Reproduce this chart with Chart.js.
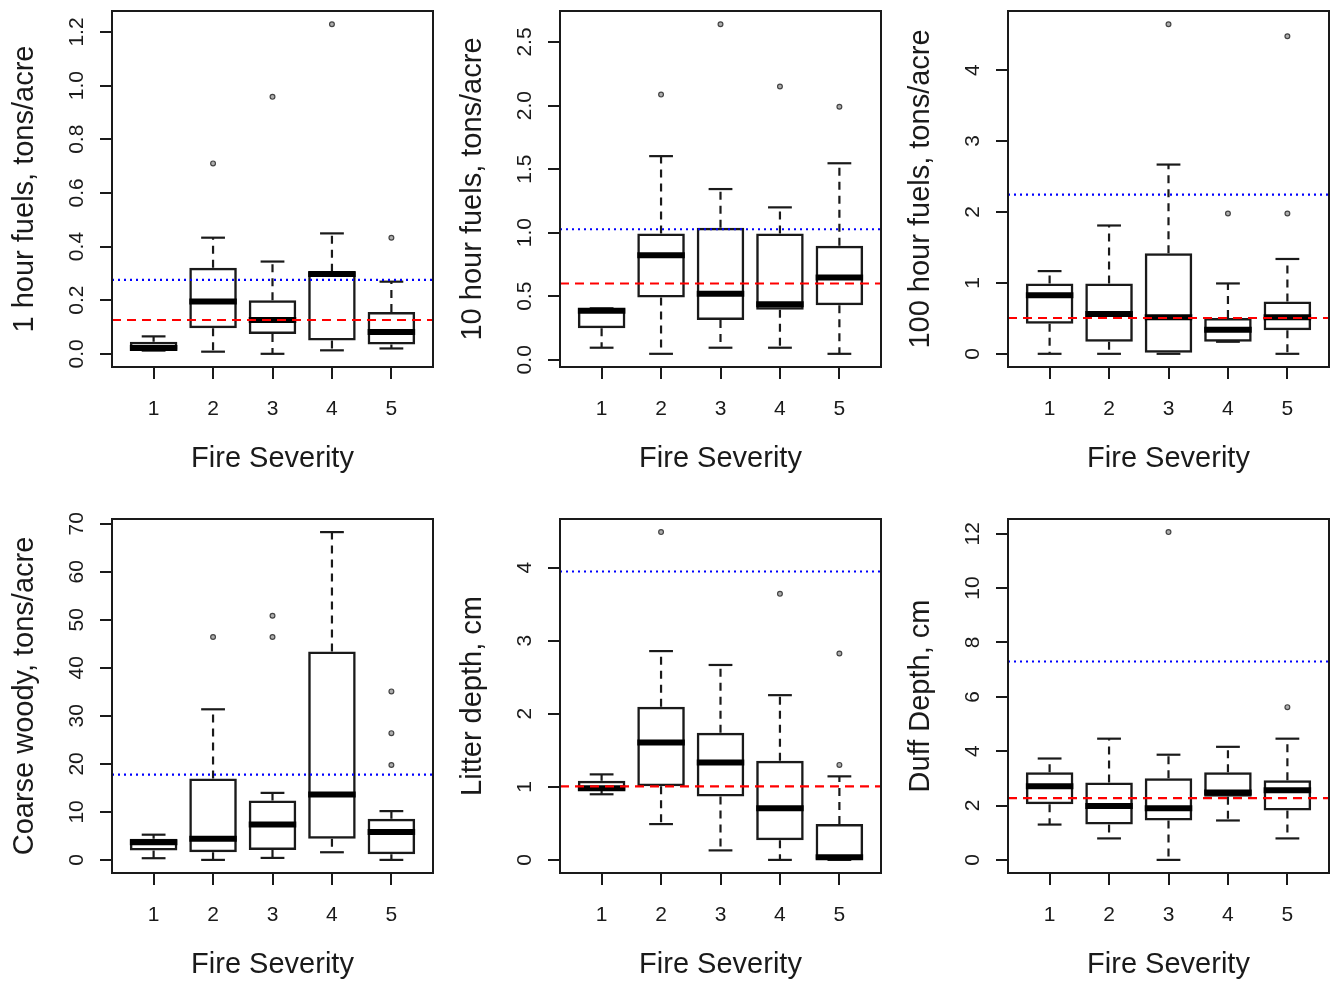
<!DOCTYPE html>
<html>
<head>
<meta charset="utf-8">
<script src="https://cdn.jsdelivr.net/npm/chart.js@4.4.1/dist/chart.umd.min.js"></script>
<style>
  body { margin: 0; background: #fff; overflow: hidden; width: 1334px; height: 983px; position: relative; }
  canvas { position: absolute; }
</style>
</head>
<body>
<canvas id="c1" width="445" height="490" style="left:0px;top:0px"></canvas>
<canvas id="c2" width="445" height="490" style="left:448px;top:0px"></canvas>
<canvas id="c3" width="445" height="490" style="left:896px;top:0px"></canvas>
<canvas id="c4" width="445" height="488" style="left:0px;top:508px"></canvas>
<canvas id="c5" width="445" height="488" style="left:448px;top:508px"></canvas>
<canvas id="c6" width="445" height="488" style="left:896px;top:508px"></canvas>
<script>
// fire severity classes (x axis)
const severity = [1, 2, 3, 4, 5];
const severityLabels = ['1', '2', '3', '4', '5'];

// 1 hour fuels, tons/acre
const oneHrLo  = [0.012, 0.008, 0.0, 0.013, 0.02];
const oneHrQ1  = [0.015, 0.095, 0.074, 0.05, 0.035];
const oneHrMed = [0.022, 0.195, 0.126, 0.298, 0.081];
const oneHrQ3  = [0.045, 0.321, 0.2, 0.306, 0.156];
const oneHrHi  = [0.065, 0.433, 0.344, 0.449, 0.269];
const oneHrOutX = [2, 3, 4, 5];
const oneHrOutY = [0.71, 0.958, 1.229, 0.433];
const oneHrBlue = 0.276;
const oneHrRed = 0.126;
const oneHrTicks = ['0.0', '0.2', '0.4', '0.6', '0.8', '1.0', '1.2'];

// 10 hour fuels, tons/acre
const tenHrLo  = [0.095, 0.047, 0.095, 0.095, 0.047];
const tenHrQ1  = [0.248, 0.49, 0.313, 0.393, 0.429];
const tenHrMed = [0.385, 0.822, 0.519, 0.437, 0.648];
const tenHrQ3  = [0.405, 0.993, 1.038, 0.993, 0.898];
const tenHrHi  = [0.405, 1.602, 1.343, 1.199, 1.546];
const tenHrOutX = [2, 3, 4, 5];
const tenHrOutY = [2.086, 2.64, 2.15, 1.99];
const tenHrBlue = 1.027;
const tenHrRed = 0.60;
const tenHrTicks = ['0.0', '0.5', '1.0', '1.5', '2.0', '2.5'];

// 100 hour fuels, tons/acre
const hundredHrLo  = [0, 0, 0, 0.17, 0];
const hundredHrQ1  = [0.425, 0.17, 0, 0.17, 0.331];
const hundredHrMed = [0.826, 0.562, 0.515, 0.34, 0.515];
const hundredHrQ3  = [0.992, 0.992, 1.417, 0.505, 0.737];
const hundredHrHi  = [1.166, 1.809, 2.668, 0.992, 1.337];
const hundredHrOutX = [3, 4, 5, 5];
const hundredHrOutY = [4.647, 1.979, 1.979, 4.477];
const hundredHrBlue = 2.243;
const hundredHrRed = 0.505;
const hundredHrTicks = ['0', '1', '2', '3', '4'];

// coarse woody, tons/acre
const coarseLo  = [0.35, 0, 0.41, 1.59, 0];
const coarseQ1  = [1.93, 1.59, 2.07, 4.42, 1.17];
const coarseMed = [3.66, 4.42, 7.39, 13.61, 5.8];
const coarseQ3  = [4.42, 16.93, 12.37, 43.4, 8.57];
const coarseHi  = [5.25, 31.37, 13.96, 68.28, 10.16];
const coarseOutX = [2, 3, 3, 5, 5, 5];
const coarseOutY = [46.44, 46.44, 50.86, 19.76, 26.4, 35.1];
const coarseBlue = 17.76;
const coarseRed = null;
const coarseTicks = ['0', '10', '20', '30', '40', '50', '60', '70'];

// litter depth, cm
const litterLo  = [0.898, 0.49, 0.13, 0, 0];
const litterQ1  = [0.948, 1.007, 0.866, 0.268, 0];
const litterMed = [0.98, 1.605, 1.333, 0.707, 0.036];
const litterQ3  = [1.084, 2.095, 1.741, 1.356, 0.49];
const litterHi  = [1.17, 2.857, 2.667, 2.254, 1.143];
const litterOutX = [2, 4, 5, 5];
const litterOutY = [4.485, 3.64, 1.30, 2.825];
const litterBlue = 3.946;
const litterRed = 1.007;
const litterTicks = ['0', '1', '2', '3', '4'];

// duff depth, cm
const duffLo  = [1.30, 0.79, 0, 1.45, 0.79];
const duffQ1  = [2.05, 1.30, 1.45, 2.32, 1.82];
const duffMed = [2.71, 1.98, 1.90, 2.48, 2.56];
const duffQ3  = [3.22, 2.85, 3.0, 3.22, 2.93];
const duffHi  = [3.73, 4.46, 3.87, 4.16, 4.46];
const duffOutX = [3, 5];
const duffOutY = [12.06, 5.62];
const duffBlue = 7.30;
const duffRed = 2.27;
const duffTicks = ['0', '2', '4', '6', '8', '10', '12'];

const xLim = [0.3, 5.7];
const ink = '#1a1a1a';
const fontFamily = '"Liberation Sans", Arial, Helvetica, sans-serif';
Chart.defaults.font.family = fontFamily;
Chart.defaults.color = ink;

// padding so the rotated y labels sit centred 35px left of the plot box
const meas = document.createElement('canvas').getContext('2d');
function yLabelPad(labels) {
  meas.font = '21px ' + fontFamily;
  const w = Math.max(...labels.map(l => meas.measureText(l).width));
  return 23 - w / 2;
}

// no extra room for overhanging tick labels: plot box stays where it is put
function fixedSize(s, w, h) {
  if (w) s.width = w;
  if (h) s.height = h;
  s.paddingLeft = 0; s.paddingRight = 0; s.paddingTop = 0; s.paddingBottom = 0;
}

// frame round the plot region, like R's box()
const framePlugin = {
  id: 'frame',
  afterDraw(chart) {
    const a = chart.chartArea;
    const ctx = chart.ctx;
    ctx.save();
    ctx.strokeStyle = ink;
    ctx.lineWidth = 2;
    ctx.strokeRect(a.left, a.top, a.right - a.left, a.bottom - a.top);
    ctx.restore();
  }
};

function makePanel(id, title, lo, q1, med, q3, hi, outX, outY, blue, red, tickLabels) {
  const all = lo.concat(hi, outY);
  const yMin = Math.min(...all), yMax = Math.max(...all);
  const ext = (yMax - yMin) * 0.04;
  const yTicks = tickLabels.map(Number);

  const whisker = (from, to) => severity.flatMap((x, i) => [
    { x: x, y: from[i] }, { x: x, y: to[i] }, { x: x, y: null }
  ]);

  const datasets = [];
  if (blue !== null) {
    datasets.push({ type: 'line', data: [{ x: xLim[0], y: blue }, { x: xLim[1], y: blue }],
      borderColor: '#0000ff', borderWidth: 2.2, borderDash: [2, 4], pointRadius: 0 });
  }
  if (red !== null) {
    datasets.push({ type: 'line', data: [{ x: xLim[0], y: red }, { x: xLim[1], y: red }],
      borderColor: '#ff0000', borderWidth: 2.2, borderDash: [9, 6], pointRadius: 0 });
  }
  // medians
  datasets.push({ type: 'line', showLine: false, data: severity.map((x, i) => ({ x: x, y: med[i] })),
    pointStyle: 'line', pointRadius: 23.75, pointBorderWidth: 6, pointBorderColor: '#000' });
  // whisker caps
  datasets.push({ type: 'line', showLine: false,
    data: severity.map((x, i) => ({ x: x, y: hi[i] })).concat(severity.map((x, i) => ({ x: x, y: lo[i] }))),
    pointStyle: 'line', pointRadius: 11.9, pointBorderWidth: 2.2, pointBorderColor: ink });
  // whiskers (dashed)
  datasets.push({ type: 'line', data: whisker(q3, hi), borderColor: ink, borderWidth: 2.2,
    borderDash: [8, 6], pointRadius: 0, spanGaps: false });
  datasets.push({ type: 'line', data: whisker(q1, lo), borderColor: ink, borderWidth: 2.2,
    borderDash: [8, 6], pointRadius: 0, spanGaps: false });
  // boxes
  datasets.push({ type: 'bar', data: severity.map((x, i) => ({ x: x, y: [q1[i], q3[i]] })),
    backgroundColor: 'rgba(0,0,0,0)', borderColor: ink, borderWidth: 2.5, borderSkipped: false,
    barPercentage: 0.8, categoryPercentage: 1 });
  // outliers
  datasets.push({ type: 'line', showLine: false, data: outX.map((x, i) => ({ x: x, y: outY[i] })),
    pointStyle: 'circle', pointRadius: 2.4, pointBorderWidth: 1.2,
    pointBorderColor: '#444', pointBackgroundColor: 'rgba(140,140,140,0.7)' });

  new Chart(document.getElementById(id), {
    type: 'bar',
    data: { datasets: datasets },
    options: {
      responsive: false,
      animation: false,
      devicePixelRatio: 1,
      events: [],
      layout: { autoPadding: false, padding: { left: 0, top: 11, right: 12, bottom: 0 } },
      plugins: { legend: { display: false }, tooltip: { enabled: false } },
      scales: {
        x: {
          type: 'linear', min: xLim[0], max: xLim[1], offset: false,
          afterFit: s => fixedSize(s, 0, 123),
          afterBuildTicks: s => { s.ticks = severity.map(v => ({ value: v })); },
          ticks: { autoSkip: false, maxRotation: 0, padding: 18, color: ink,
            font: { size: 21 }, callback: (v, i) => severityLabels[i] },
          grid: { drawOnChartArea: false, offset: false, tickLength: 12, lineWidth: 2, color: ink },
          border: { display: false },
          title: { display: true, text: 'Fire Severity', color: ink, font: { size: 29 },
            padding: { top: 0, bottom: 13.6 } }
        },
        y: {
          type: 'linear', min: yMin - ext, max: yMax + ext,
          afterFit: s => fixedSize(s, 112, 0),
          afterBuildTicks: s => { s.ticks = yTicks.map(v => ({ value: v })); },
          ticks: { autoSkip: false, minRotation: 90, maxRotation: 90, crossAlign: 'center',
            padding: yLabelPad(tickLabels), color: ink, font: { size: 21 },
            callback: (v, i) => tickLabels[i] },
          grid: { drawOnChartArea: false, tickLength: 12, lineWidth: 2, color: ink },
          border: { display: false },
          title: { display: true, text: title, color: ink, font: { size: 29 },
            padding: { top: 7.6, bottom: 0 } }
        }
      }
    },
    plugins: [framePlugin]
  });
}

makePanel('c1', '1 hour fuels, tons/acre', oneHrLo, oneHrQ1, oneHrMed, oneHrQ3, oneHrHi,
  oneHrOutX, oneHrOutY, oneHrBlue, oneHrRed, oneHrTicks);
makePanel('c2', '10 hour fuels, tons/acre', tenHrLo, tenHrQ1, tenHrMed, tenHrQ3, tenHrHi,
  tenHrOutX, tenHrOutY, tenHrBlue, tenHrRed, tenHrTicks);
makePanel('c3', '100 hour fuels, tons/acre', hundredHrLo, hundredHrQ1, hundredHrMed, hundredHrQ3, hundredHrHi,
  hundredHrOutX, hundredHrOutY, hundredHrBlue, hundredHrRed, hundredHrTicks);
makePanel('c4', 'Coarse woody, tons/acre', coarseLo, coarseQ1, coarseMed, coarseQ3, coarseHi,
  coarseOutX, coarseOutY, coarseBlue, coarseRed, coarseTicks);
makePanel('c5', 'Litter depth, cm', litterLo, litterQ1, litterMed, litterQ3, litterHi,
  litterOutX, litterOutY, litterBlue, litterRed, litterTicks);
makePanel('c6', 'Duff Depth, cm', duffLo, duffQ1, duffMed, duffQ3, duffHi,
  duffOutX, duffOutY, duffBlue, duffRed, duffTicks);
</script>
</body>
</html>
